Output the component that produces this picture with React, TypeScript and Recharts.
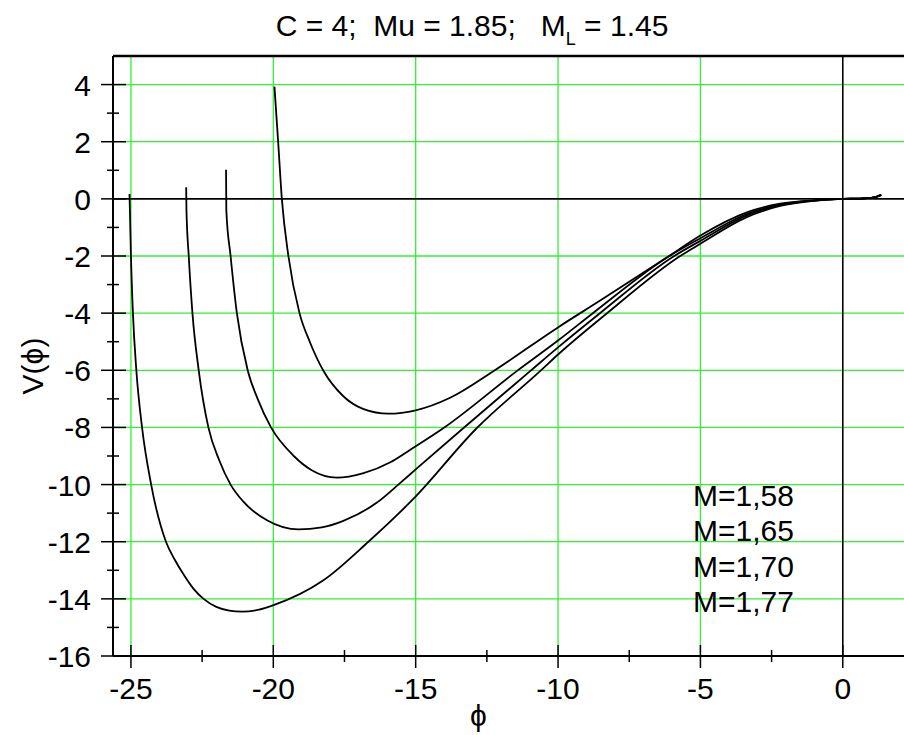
import React from 'react';
import { LineChart, Line, XAxis, YAxis, ReferenceLine } from 'recharts';

// phi / V(phi) pairs, one pair of arrays per curve
const phiA = [-19.96, -19.83, -19.7, -19.47, -19.08, -18.72, -18.25, -17.55, -16.85, -15.95, -15.0, -13.79, -12.27, -9.99, -8.52, -6.25, -5.0, -3.37, -2.2, -1.03, 0, 0.6, 1.1, 1.35];
const vA = [3.93, 2.0, 0, -2, -4, -5, -6, -6.9, -7.35, -7.52, -7.4, -6.96, -6.03, -4.49, -3.56, -2.1, -1.28, -0.47, -0.17, -0.05, 0, 0.01, 0.05, 0.14];

const phiB = [-21.66, -21.65, -21.5, -21.28, -20.9, -20.55, -20.08, -19.28, -18.65, -17.77, -16.83, -15.89, -15.19, -14.02, -11.45, -9.99, -8.8, -6.09, -5.0, -3.37, -2.2, -1.03, 0, 0.6, 1.1, 1.35];
const vB = [1.02, -0.41, -2, -4, -6, -7, -8, -9, -9.5, -9.76, -9.6, -9.22, -8.78, -8.02, -6.03, -4.95, -4.02, -2, -1.38, -0.53, -0.2, -0.06, 0, 0.01, 0.05, 0.14];

const phiC = [-23.06, -23.05, -22.97, -22.84, -22.62, -22.28, -21.9, -21.5, -21.05, -20.22, -19.11, -18.3, -17.54, -16.36, -15.54, -15.0, -13.32, -10.98, -9.99, -8.55, -5.92, -5.0, -3.37, -2.2, -1.03, 0, 0.6, 1.1, 1.35];
const vC = [0.41, -0.4, -2, -4, -6, -8, -9.15, -10, -10.6, -11.25, -11.57, -11.5, -11.27, -10.63, -9.94, -9.47, -8.02, -6.03, -5.19, -4.02, -2, -1.47, -0.58, -0.22, -0.06, 0, 0.01, 0.05, 0.14];

const phiD = [-25.05, -25.0, -24.93, -24.81, -24.61, -24.29, -23.77, -23.45, -23.15, -22.8, -22.45, -22.0, -21.55, -21.1, -20.5, -19.99, -18.24, -16.66, -15.1, -12.85, -10.63, -9.99, -8.3, -5.71, -5.0, -3.37, -2.2, -1.03, 0, 0.6, 1.1, 1.35];
const vD = [0.17, -2, -4, -6, -8, -10, -12, -12.65, -13.15, -13.65, -14.0, -14.28, -14.41, -14.45, -14.38, -14.22, -13.35, -12, -10.52, -8.02, -6.03, -5.44, -4.02, -2, -1.57, -0.64, -0.25, -0.07, 0, 0.01, 0.05, 0.14];

const legendLabels = ['M=1,58', 'M=1,65', 'M=1,70', 'M=1,77'];

const xTicks = [-25, -22.5, -20, -17.5, -15, -12.5, -10, -7.5, -5, -2.5, 0];
const yTicks = [-16, -15, -14, -13, -12, -11, -10, -9, -8, -7, -6, -5, -4, -3, -2, -1, 0, 1, 2, 3, 4];
const xGrid = [-25, -20, -15, -10, -5];
const yGrid = [-14, -12, -10, -8, -6, -4, -2, 2, 4];

const toPoints = (xs: number[], ys: number[]) => xs.map((x, i) => ({ x, y: ys[i] }));

const curves = [
  toPoints(phiA, vA),
  toPoints(phiB, vB),
  toPoints(phiC, vC),
  toPoints(phiD, vD),
];

const FONT = 'Arial, "Liberation Sans", sans-serif';
const FS = 30;
const GREEN = '#33f033';

const XTick = (props: any) => {
  const { x, y, payload } = props;
  const v = payload.value;
  const major = v % 5 === 0;
  return (
    <g>
      <line x1={x} x2={x} y1={y - (major ? 11 : 6)} y2={y + (major ? 12 : 6)} stroke="#000" strokeWidth={1.5} />
      {major && (
        <text x={x} y={y + 43} textAnchor="middle" fontSize={FS} fontFamily={FONT} fill="#000">
          {v}
        </text>
      )}
    </g>
  );
};

const YTick = (props: any) => {
  const { x, y, payload } = props;
  const v = payload.value;
  const major = v % 2 === 0;
  return (
    <g>
      <line x1={x - (major ? 12 : 6)} x2={x + (major ? 13 : 6)} y1={y} y2={y} stroke="#000" strokeWidth={1.5} />
      {major && (
        <text x={x - 22} y={y + 11} textAnchor="end" fontSize={FS} fontFamily={FONT} fill="#000">
          {v}
        </text>
      )}
    </g>
  );
};

const textStyle: React.CSSProperties = {
  position: 'absolute',
  fontFamily: FONT,
  fontSize: FS,
  lineHeight: '34px',
  color: '#000',
  whiteSpace: 'pre',
};

export default function App() {
  return (
    <div style={{ position: 'absolute', left: 0, top: 0, width: 904, height: 735, background: '#fff', overflow: 'hidden' }}>
      <LineChart width={904} height={735} margin={{ top: 56, right: 0, bottom: 0, left: 0 }}>
        <XAxis
          type="number"
          dataKey="x"
          domain={[-25.63, 2.15]}
          allowDataOverflow
          ticks={xTicks}
          interval={0}
          height={79}
          tickSize={0}
          tickMargin={0}
          tickLine={false}
          axisLine={{ stroke: '#000', strokeWidth: 2 }}
          tick={<XTick />}
        />
        <YAxis
          type="number"
          dataKey="y"
          domain={[-16, 5]}
          allowDataOverflow
          ticks={yTicks}
          interval={0}
          width={113}
          tickSize={0}
          tickMargin={0}
          tickLine={false}
          axisLine={{ stroke: '#000', strokeWidth: 2 }}
          tick={<YTick />}
        />
        {xGrid.map((v) => (
          <ReferenceLine key={'gx' + v} x={v} stroke={GREEN} strokeWidth={1.3} />
        ))}
        {yGrid.map((v) => (
          <ReferenceLine key={'gy' + v} y={v} stroke={GREEN} strokeWidth={1.3} />
        ))}
        <ReferenceLine y={0} stroke="#000" strokeWidth={1.6} />
        <ReferenceLine x={0} stroke="#000" strokeWidth={1.6} />
        <ReferenceLine y={5} stroke="#000" strokeWidth={2.5} />
        {curves.map((d, i) => (
          <Line
            key={legendLabels[i]}
            data={d}
            dataKey="y"
            type="monotone"
            stroke="#000"
            strokeWidth={1.8}
            dot={false}
            activeDot={false}
            isAnimationActive={false}
          />
        ))}
      </LineChart>

      <div style={{ ...textStyle, left: 0, width: 944, top: 9, textAlign: 'center' }}>
        {'C = 4;  Mu = 1.85;   M'}
        <span style={{ fontSize: 18, position: 'relative', top: 9 }}>L</span>
        {' = 1.45'}
      </div>

      {legendLabels.map((t, i) => (
        <div key={t} style={{ ...textStyle, left: 693, top: 479 + i * 35.3 }}>
          {t}
        </div>
      ))}

      <div style={{ ...textStyle, left: 470, top: 699 }}>ϕ</div>
      <div style={{ ...textStyle, left: 33, top: 366, transform: 'translate(-50%, -50%) rotate(-90deg)' }}>V(ϕ)</div>
    </div>
  );
}
